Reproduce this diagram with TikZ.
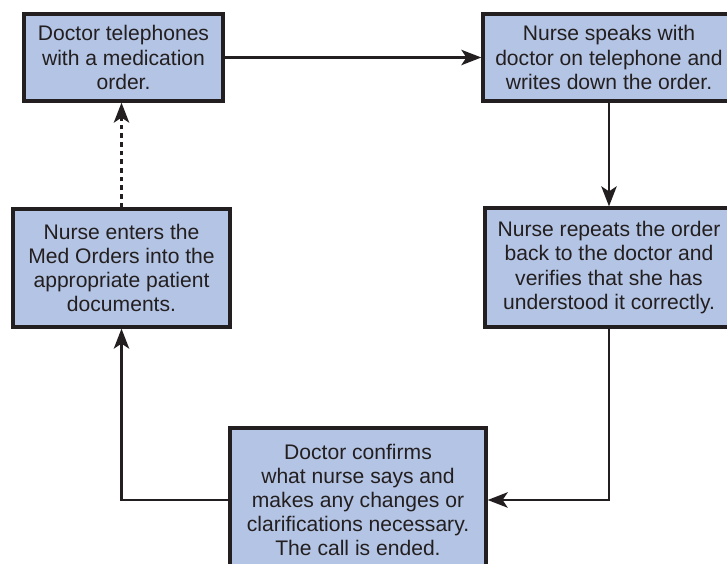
\documentclass[tikz,border=0pt]{standalone}
\usepackage{fontspec}
\setmainfont{Liberation Sans}
\usepackage{xcolor}
\usetikzlibrary{arrows.meta, positioning}

\definecolor{boxfill}{RGB}{180,196,228}
\definecolor{ink}{RGB}{35,31,32}

\begin{document}
\begin{tikzpicture}[
  x=0.03cm, y=-0.03cm,
  stepbox/.style={rectangle, draw=ink, fill=boxfill, line width=2.8pt,
                  align=center, inner sep=2pt, text=ink,
                  font=\fontsize{18}{20.6}\selectfont},
  flow/.style={draw=ink, line width=2.3pt,
               -{Stealth[length=6mm, width=4.6mm, inset=1.5mm]}},
  >=stealth
]

\useasboundingbox (0,0) rectangle (727,564);

% --- Boxes ---
\node[stepbox, minimum width=199*0.03cm, minimum height=87*0.03cm]
  (call) at (123.5,57.5) {Doctor telephones\\with a medication\\order.};
\node[stepbox, minimum width=252*0.03cm, minimum height=87*0.03cm]
  (write) at (609,57.5) {Nurse speaks with\\doctor on telephone and\\writes down the order.};
\node[stepbox, minimum width=248*0.03cm, minimum height=119*0.03cm]
  (repeat) at (609,267.5) {Nurse repeats the order\\back to the doctor and\\verifies that she has\\understood it correctly.};
\node[stepbox, minimum width=256*0.03cm, minimum height=144*0.03cm]
  (confirm) at (358,500) {Doctor confirms\\what nurse says and\\makes any changes or\\clarifications necessary.\\The call is ended.};
\node[stepbox, minimum width=217*0.03cm, minimum height=118*0.03cm]
  (enter) at (121.5,268) {Nurse enters the\\Med Orders into the\\appropriate patient\\documents.};

% --- Connectors ---
\draw[flow] (call) -- (write);
\draw[flow] (write) -- (repeat);
\draw[flow] (repeat.south) |- (confirm.east);
\draw[flow] (confirm.west) -| (enter.south);
\draw[flow, dash pattern=on 4pt off 3.4pt] (enter.north) -- (enter.north |- call.south);

\end{tikzpicture}
\end{document}
